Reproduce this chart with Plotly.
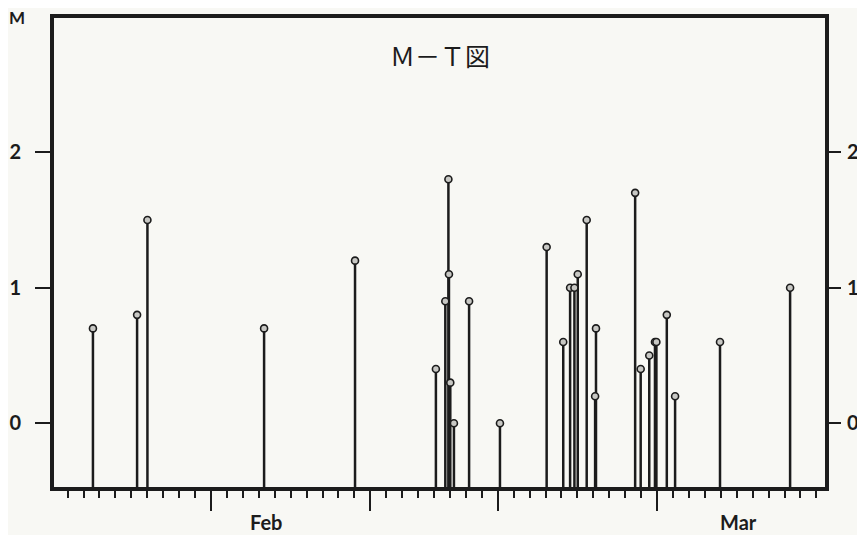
import plotly.graph_objects as go

# ---- data ----
event_times = [
    "1991-02-03 14:10", "1991-02-06 08:40", "1991-02-07 00:15", "1991-02-14 08:00",
    "1991-02-20 01:00", "1991-02-25 02:50", "1991-02-25 17:00", "1991-02-25 21:40",
    "1991-02-25 22:30", "1991-02-26 00:30", "1991-02-26 06:00", "1991-02-27 04:50",
    "1991-03-01 03:20", "1991-03-04 01:40", "1991-03-05 02:40", "1991-03-05 13:00",
    "1991-03-05 19:30", "1991-03-06 00:30", "1991-03-06 14:00", "1991-03-07 02:40",
    "1991-03-07 04:00", "1991-03-09 15:00", "1991-03-09 23:20", "1991-03-10 12:15",
    "1991-03-10 20:50", "1991-03-10 23:00", "1991-03-11 14:40", "1991-03-12 03:10",
    "1991-03-14 22:50", "1991-03-19 08:25",
]
magnitudes = [
    0.7, 0.8, 1.5, 0.7,
    1.2, 0.4, 0.9, 1.8,
    1.1, 0.3, 0.0, 0.9,
    0.0, 1.3, 0.6, 1.0,
    1.0, 1.1, 1.5, 0.2,
    0.7, 1.7, 0.4, 0.5,
    0.6, 0.6, 0.8, 0.2,
    0.6, 1.0,
]
y_tick_values = [0, 1, 2]
x_major_ticks = ["1991-02-11", "1991-02-21", "1991-03-01", "1991-03-11"]
month_labels = ["Feb", "Mar"]
month_label_pos = ["1991-02-14 11:00", "1991-03-16 02:00"]
x_range = ["1991-02-01 03:30", "1991-03-21 13:00"]
y_range = [-0.47, 2.99]
title_text = "Ｍ－Ｔ図"
y_title = "M"

# ---- stems built from the data ----
stem_x, stem_y = [], []
for t, m in zip(event_times, magnitudes):
    stem_x += [t, t, None]
    stem_y += [y_range[0], m, None]

ink = "#1c1c1c"
paper = "#f8f8f4"
font_family = "Lato, 'DejaVu Sans', sans-serif"

# the page adds an 8 px body margin, so the figure is drawn 8 px smaller
W, H = 857, 527
ML, MR, MT, MB = 46, 40, 10, 48

fig = go.Figure()
fig.add_trace(go.Scatter(x=stem_x, y=stem_y, mode="lines",
                         line=dict(color=ink, width=2.5),
                         hoverinfo="skip", showlegend=False))
fig.add_trace(go.Scatter(x=event_times, y=magnitudes, mode="markers",
                         marker=dict(symbol="circle", size=7, color="#c8c8c4",
                                     line=dict(color=ink, width=1.6)),
                         showlegend=False))
# invisible trace to keep the right-hand axis alive
fig.add_trace(go.Scatter(x=[event_times[0]], y=[magnitudes[0]], yaxis="y2",
                         mode="markers", marker=dict(opacity=0),
                         hoverinfo="skip", showlegend=False))

tick_font = dict(family=font_family, size=20, color=ink, weight="bold")

fig.update_layout(
    width=W, height=H,
    margin=dict(l=ML, r=MR, t=MT, b=MB, autoexpand=False),
    paper_bgcolor=paper, plot_bgcolor=paper,
    xaxis=dict(
        type="date", range=x_range, automargin=False,
        showgrid=False, zeroline=False,
        showline=True, linewidth=4, linecolor=ink, mirror=True,
        tickmode="array", tickvals=x_major_ticks,
        ticktext=[""] * len(x_major_ticks),
        ticks="outside", ticklen=20, tickwidth=2, tickcolor=ink,
        minor=dict(tickmode="linear", tick0="1991-02-01", dtick=86400000,
                   ticks="outside", ticklen=7, tickwidth=2, tickcolor=ink,
                   showgrid=False),
    ),
    yaxis=dict(
        range=y_range, tickvals=y_tick_values, automargin=False,
        showgrid=False, zeroline=False,
        showline=True, linewidth=4, linecolor=ink, mirror=True,
        ticks="outside", ticklen=15, tickwidth=2, tickcolor=ink,
        tickfont=tick_font, ticklabelstandoff=10,
    ),
    yaxis2=dict(
        range=y_range, tickvals=y_tick_values, overlaying="y", side="right",
        automargin=False,
        showgrid=False, zeroline=False, showline=False,
        ticks="outside", ticklen=15, tickwidth=2, tickcolor=ink,
        tickfont=tick_font, ticklabelstandoff=2,
    ),
)

plot_h = H - MT - MB
plot_w = W - ML - MR

for lbl, pos in zip(month_labels, month_label_pos):
    fig.add_annotation(x=pos, xref="x", y=0, yref="paper", yshift=-35,
                       text=lbl, showarrow=False, xanchor="center", yanchor="middle",
                       font=dict(family=font_family, size=20, color=ink, weight="bold"))

fig.add_annotation(x=(432 - ML) / plot_w, xref="paper", y=1 - (47 - MT) / plot_h, yref="paper",
                   text=title_text, showarrow=False, xanchor="center", yanchor="middle",
                   font=dict(family="'Noto Sans CJK JP', sans-serif", size=25, color=ink))
fig.add_annotation(x=(9 - ML) / plot_w, xref="paper", y=1 - (9 - MT) / plot_h, yref="paper",
                   text=y_title, showarrow=False, xanchor="center", yanchor="middle",
                   font=dict(family=font_family, size=17, color=ink, weight="bold"))

fig.write_html("out.html")
